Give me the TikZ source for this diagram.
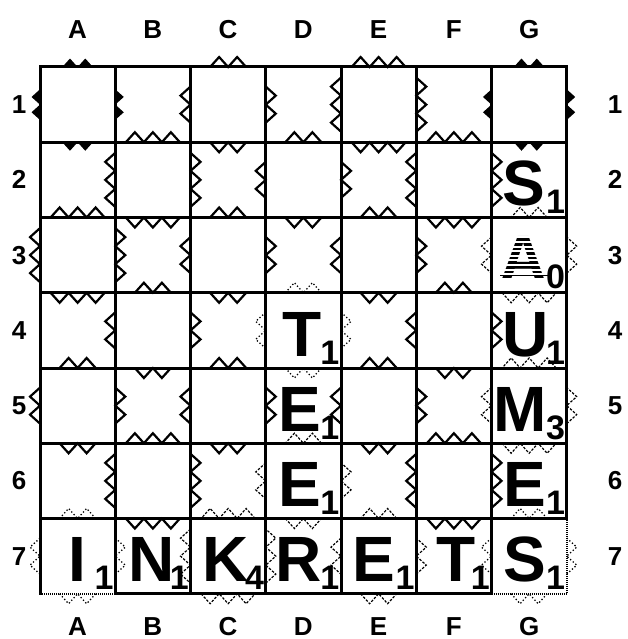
\documentclass[tikz,border=0pt]{standalone}
\usepackage{fontspec}
\setmainfont{Liberation Sans}
\usetikzlibrary{positioning}
% teeth on one side of a cell: [style]{col}{row}{side angle}{count}{0 = out, 180 = in}
\newcommand{\teeth}[6][solidt]{%
  \begin{scope}[shift={({40+75.25*(#2-0.5)},{-67-75.25*(#3-0.5)})}, rotate=#4,
                shift={(37.6,0)}, rotate=#6]
    \path[#1] (0,{-9*#5}) \foreach \k in {1,...,#5} {-- ++(10,9) -- ++(-10,9)};
  \end{scope}}

\begin{document}
\begin{tikzpicture}[x=1pt, y=1pt,
  solidt/.style={draw, line width=2.2pt},
  fillt/.style={fill=black, scale=0.85},
  dasht/.style={draw, line width=1.2pt, dash pattern=on 2.5pt off 1.5pt},
  dott/.style={draw, line width=1.3pt, dash pattern=on 1.3pt off 2.2pt},
  rim/.style={line width=3pt, line cap=rect},
  rimdot/.style={line width=2pt, dash pattern=on 1pt off 1pt},
  tile/.style={font=\fontsize{64}{64}\selectfont\bfseries, inner sep=0pt, anchor=base},
  score/.style={font=\fontsize{34}{34}\selectfont\bfseries, inner sep=0pt, anchor=base east},
  lab/.style={font=\fontsize{26}{26}\selectfont\bfseries, inner sep=0pt, anchor=base}
]
\useasboundingbox (0,0) rectangle (627,-639);

% board
\foreach \k in {1,...,6} {
  \draw[rim] ({40+75.25*\k},-67) -- ({40+75.25*\k},-593.75);
  \draw[rim] (40,{-67-75.25*\k}) -- (566.75,{-67-75.25*\k});
}
\draw[rim] (40,-593.75) -- (40,-67) -- (566.75,-67) -- (566.75,-518.5);
\draw[rim] (116.25,-593.75) -- (491.5,-593.75);
\draw[rimdot] (40,-593.75) -- (116.25,-593.75);
\draw[rimdot] (491.5,-593.75) -- (566.75,-593.75) -- (566.75,-518.5);

% side angle: 90 top, 270 bottom, 180 left, 0 right
\foreach \c/\r/\s/\n/\d in {2/1/0/2/180, 2/1/270/3/180, 3/1/90/2/0, 4/1/180/2/180,
    4/1/0/3/180, 4/1/270/2/180, 5/1/90/3/0, 6/1/180/3/180, 6/1/270/3/180,
    1/2/0/3/180, 1/2/270/3/180, 3/2/90/2/180, 3/2/180/3/180, 3/2/0/2/180,
    3/2/270/2/180, 5/2/90/3/180, 5/2/180/2/180, 5/2/0/3/180, 5/2/270/2/180,
    7/2/180/3/180, 1/3/180/3/0, 2/3/90/3/180, 2/3/180/3/180, 2/3/0/2/180,
    2/3/270/2/180, 4/3/90/2/180, 4/3/180/2/180, 4/3/0/2/180, 6/3/90/3/180,
    6/3/180/2/180, 6/3/270/2/180, 1/4/90/3/180, 1/4/0/2/180, 1/4/270/2/180,
    3/4/90/2/180, 3/4/180/2/180, 3/4/270/2/180, 5/4/90/2/180, 5/4/0/2/180,
    5/4/270/2/180, 7/4/180/2/180, 1/5/180/2/0, 2/5/90/2/180, 2/5/180/2/180,
    2/5/0/2/180, 2/5/270/3/180, 4/5/180/2/180, 4/5/0/2/180, 6/5/90/2/180,
    6/5/180/2/180, 6/5/270/3/180, 1/6/90/2/180, 1/6/0/3/180, 3/6/90/2/180,
    3/6/180/3/180, 5/6/90/2/180, 5/6/0/3/180, 7/6/180/3/180, 2/7/90/3/180,
    6/7/90/3/180}
  \teeth{\c}{\r}{\s}{\n}{\d};
\foreach \c/\r/\s/\n/\d in {1/1/90/2/0, 1/1/180/2/0, 2/1/180/2/180, 6/1/0/2/180,
    7/1/90/2/0, 7/1/0/2/0, 1/2/90/2/180, 7/2/90/2/180}
  \teeth[fillt]{\c}{\r}{\s}{\n}{\d};
\foreach \c/\r/\s/\n/\d in {7/2/270/2/180, 6/3/0/2/180, 7/3/0/2/0, 7/4/90/3/180,
    7/4/270/3/180, 4/5/270/2/180, 6/5/0/2/180, 7/5/0/2/0, 3/6/0/2/180,
    3/6/270/3/180, 5/6/180/2/180, 5/6/270/2/180, 7/6/90/3/180, 2/7/0/3/180,
    3/7/270/3/0, 4/7/90/2/180, 4/7/180/3/180, 4/7/0/2/180, 5/7/270/2/0,
    6/7/180/2/180}
  \teeth[dasht]{\c}{\r}{\s}{\n}{\d};
\foreach \c/\r/\s/\n/\d in {4/3/270/2/180, 3/4/0/2/180, 5/4/180/2/180, 4/5/90/2/180,
    1/6/270/2/180, 7/6/270/2/180, 1/7/180/2/0, 1/7/270/2/0, 2/7/180/2/180,
    6/7/0/2/180, 7/7/0/2/0, 7/7/270/2/0}
  \teeth[dott]{\c}{\r}{\s}{\n}{\d};

% tiles
\foreach \c/\r/\l/\v/\dx in {7/2/S/1/-5, 7/3/A/0/-5.5, 7/4/U/1/-4, 7/5/M/3/-8.5,
    7/6/E/1/-4.5, 4/4/T/1/-1, 4/5/E/1/-4, 4/6/E/1/-3.5, 1/7/I/1/0, 2/7/N/1/-1.5,
    3/7/K/4/-2.5, 4/7/R/1/-5, 5/7/E/1/-4.5, 6/7/T/1/2.5, 7/7/S/1/-4} {
  \node[tile] (t\c\r) at ({40+75.25*(\c-0.5)+\dx},{-67-75.25*\r+12}) {\l};
  \node[score] (n\c\r) at ({40+75.25*\c-1.5},{-67-75.25*\r+4}) {\v};
}
% striped A
\foreach \k in {0,...,9}
  \draw[white, line width=2pt] ([yshift={2+4.6*\k}]t73.base west) -- ([yshift={2+4.6*\k}]t73.base east);
\draw[line width=1.5pt] ([yshift=5.5]t73.base west) -- ([yshift=5.5, xshift=3]t73.base east);

% coordinates round the board
\foreach \c/\l in {1/A, 2/B, 3/C, 4/D, 5/E, 6/F, 7/G} {
  \node[lab] (top\l) at ({40+75.25*(\c-0.5)},-39) {\l};
  \node[lab] (bot\l) at ({40+75.25*(\c-0.5)},-635) {\l};
}
\foreach \r in {1,...,7} {
  \node[lab] (left\r) at (19,{-67-75.25*(\r-0.5)-9}) {\r};
  \node[lab] (right\r) at (615,{-67-75.25*(\r-0.5)-9}) {\r};
}
\end{tikzpicture}
\end{document}
